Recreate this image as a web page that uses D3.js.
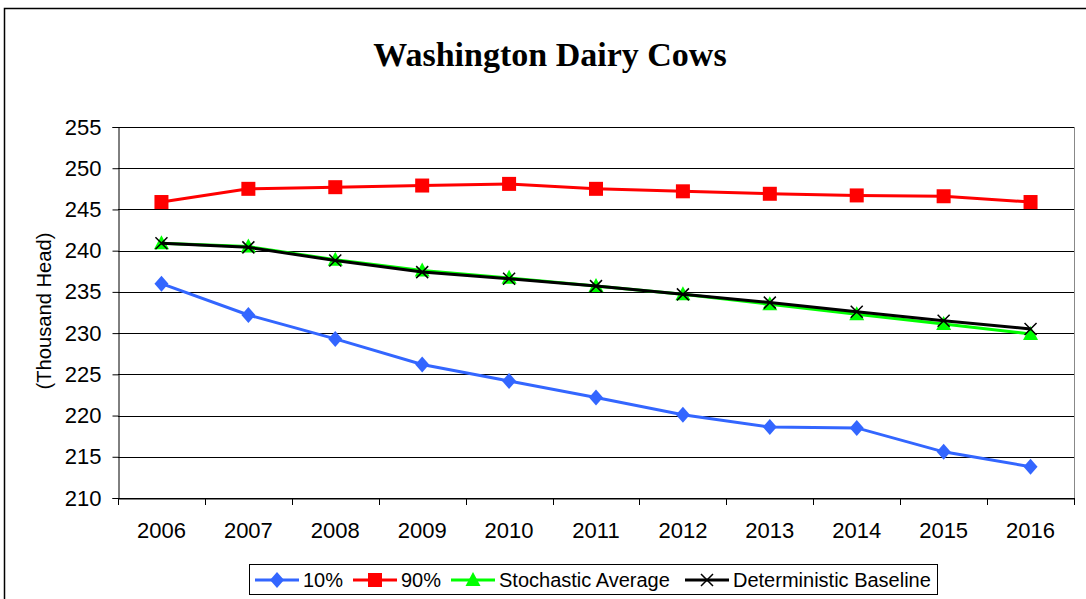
<!DOCTYPE html>
<html><head><meta charset="utf-8">
<script src="https://cdn.jsdelivr.net/npm/d3@7"></script>
<style>body{margin:0;background:#fff}svg{display:block}</style>
</head><body>
<svg id="c" width="1086" height="599"></svg>
<script>
const years = ["2006","2007","2008","2009","2010","2011","2012","2013","2014","2015","2016"];
const p10 = [236.0,232.2,229.3,226.2,224.2,222.2,220.1,218.6,218.5,215.6,213.8];
const p90 = [245.9,247.5,247.7,247.9,248.1,247.5,247.2,246.9,246.7,246.6,245.9];
const stochAvg = [240.9,240.5,238.9,237.6,236.7,235.7,234.7,233.5,232.3,231.1,229.9];
const detBase = [240.9,240.4,238.8,237.4,236.6,235.7,234.7,233.7,232.6,231.5,230.5];
const yTicks = [210,215,220,225,230,235,240,245,250,255];

const svg = d3.select("#c");
const L=118, R=1074, T=127, B=498;
const x = d3.scaleBand().domain(years).range([L,R]);
const y = d3.scaleLinear().domain([210,255]).range([B,T]);
const SANS = "Liberation Sans, Arial, sans-serif";

// outer chart border
svg.append("rect").attr("x",4.5).attr("y",8.5).attr("width",1200).attr("height",700)
  .attr("fill","none").attr("stroke","#000").attr("stroke-width",1.5);

svg.append("text").attr("x",550).attr("y",66).attr("text-anchor","middle")
  .attr("font-family","Liberation Serif, Times New Roman, serif").attr("font-weight","bold")
  .attr("font-size",34).text("Washington Dairy Cows");

// gridlines
svg.append("g").selectAll("line").data(yTicks).join("line")
  .attr("x1",L).attr("x2",R).attr("y1",d=>Math.round(y(d))+0.5).attr("y2",d=>Math.round(y(d))+0.5)
  .attr("stroke","#000").attr("stroke-width",1);
svg.append("line").attr("x1",R+0.5).attr("x2",R+0.5).attr("y1",T).attr("y2",B).attr("stroke","#888");

// y axis
const ya = svg.append("g").attr("transform",`translate(${L+0.5},0)`)
  .call(d3.axisLeft(y).tickValues(yTicks).tickSize(6).tickPadding(11));
ya.select(".domain").attr("stroke","#000");
ya.selectAll("text").attr("font-family",SANS).attr("font-size",22).attr("fill","#000");

// x axis
const xa = svg.append("g").attr("transform",`translate(0,${Math.round(B)+0.5})`)
  .call(d3.axisBottom(x).tickSize(0).tickPadding(24));
xa.select(".domain").attr("stroke","#000");
xa.selectAll("text").attr("font-family",SANS).attr("font-size",22).attr("fill","#000");
const bounds = years.map(d=>x(d)).concat([R]);
svg.append("g").selectAll("line").data(bounds).join("line")
  .attr("x1",d=>Math.round(d)+0.5).attr("x2",d=>Math.round(d)+0.5)
  .attr("y1",B).attr("y2",B+7).attr("stroke","#000");

svg.append("text").attr("transform","translate(51,311) rotate(-90)").attr("text-anchor","middle")
  .attr("font-family",SANS).attr("font-size",21)
  .attr("textLength",157).attr("lengthAdjust","spacingAndGlyphs").text("(Thousand Head)");

const cx = d=>x(d)+x.bandwidth()/2;
const line = d3.line().x((v,i)=>cx(years[i])).y(v=>y(v));

function marker(g, type, px, py, color){
  if(type==="diamond"){
    g.append("path").attr("d",`M${px},${py-8}L${px+7},${py}L${px},${py+8}L${px-7},${py}Z`).attr("fill",color);
  } else if(type==="square"){
    g.append("rect").attr("x",px-7).attr("y",py-7).attr("width",14).attr("height",14).attr("fill",color);
  } else if(type==="triangle"){
    g.append("path").attr("d",`M${px},${py-8}L${px+7.5},${py+6}L${px-7.5},${py+6}Z`).attr("fill",color);
  } else if(type==="x"){
    g.append("path").attr("d",`M${px-6},${py-6}L${px+6},${py+6}M${px+6},${py-6}L${px-6},${py+6}`)
      .attr("stroke",color).attr("stroke-width",1.5);
  }
}

const series = [
  {name:"10%", data:p10, color:"#3366FF", m:"diamond", w:3},
  {name:"90%", data:p90, color:"#FF0000", m:"square", w:3},
  {name:"Stochastic Average", data:stochAvg, color:"#00FF00", m:"triangle", w:3},
  {name:"Deterministic Baseline", data:detBase, color:"#000000", m:"x", w:3}
];
series.forEach(s=>{
  const g = svg.append("g");
  g.append("path").attr("d",line(s.data)).attr("fill","none").attr("stroke",s.color).attr("stroke-width",s.w);
  s.data.forEach((v,i)=>marker(g,s.m,cx(years[i]),y(v),s.color));
});

// legend
const lg = svg.append("g");
lg.append("rect").attr("x",249.5).attr("y",564.5).attr("width",688).attr("height",30)
  .attr("fill","#fff").attr("stroke","#000").attr("stroke-width",1);
const lx = [255,353,451,685];
series.forEach((s,i)=>{
  const x0 = lx[i], yy = 580;
  lg.append("line").attr("x1",x0).attr("x2",x0+44).attr("y1",yy).attr("y2",yy).attr("stroke",s.color).attr("stroke-width",3);
  marker(lg,s.m,x0+22,yy,s.color);
  lg.append("text").attr("x",x0+48).attr("y",yy+7).attr("font-family",SANS)
    .attr("font-size",20).text(s.name);
});
</script>
</body></html>
